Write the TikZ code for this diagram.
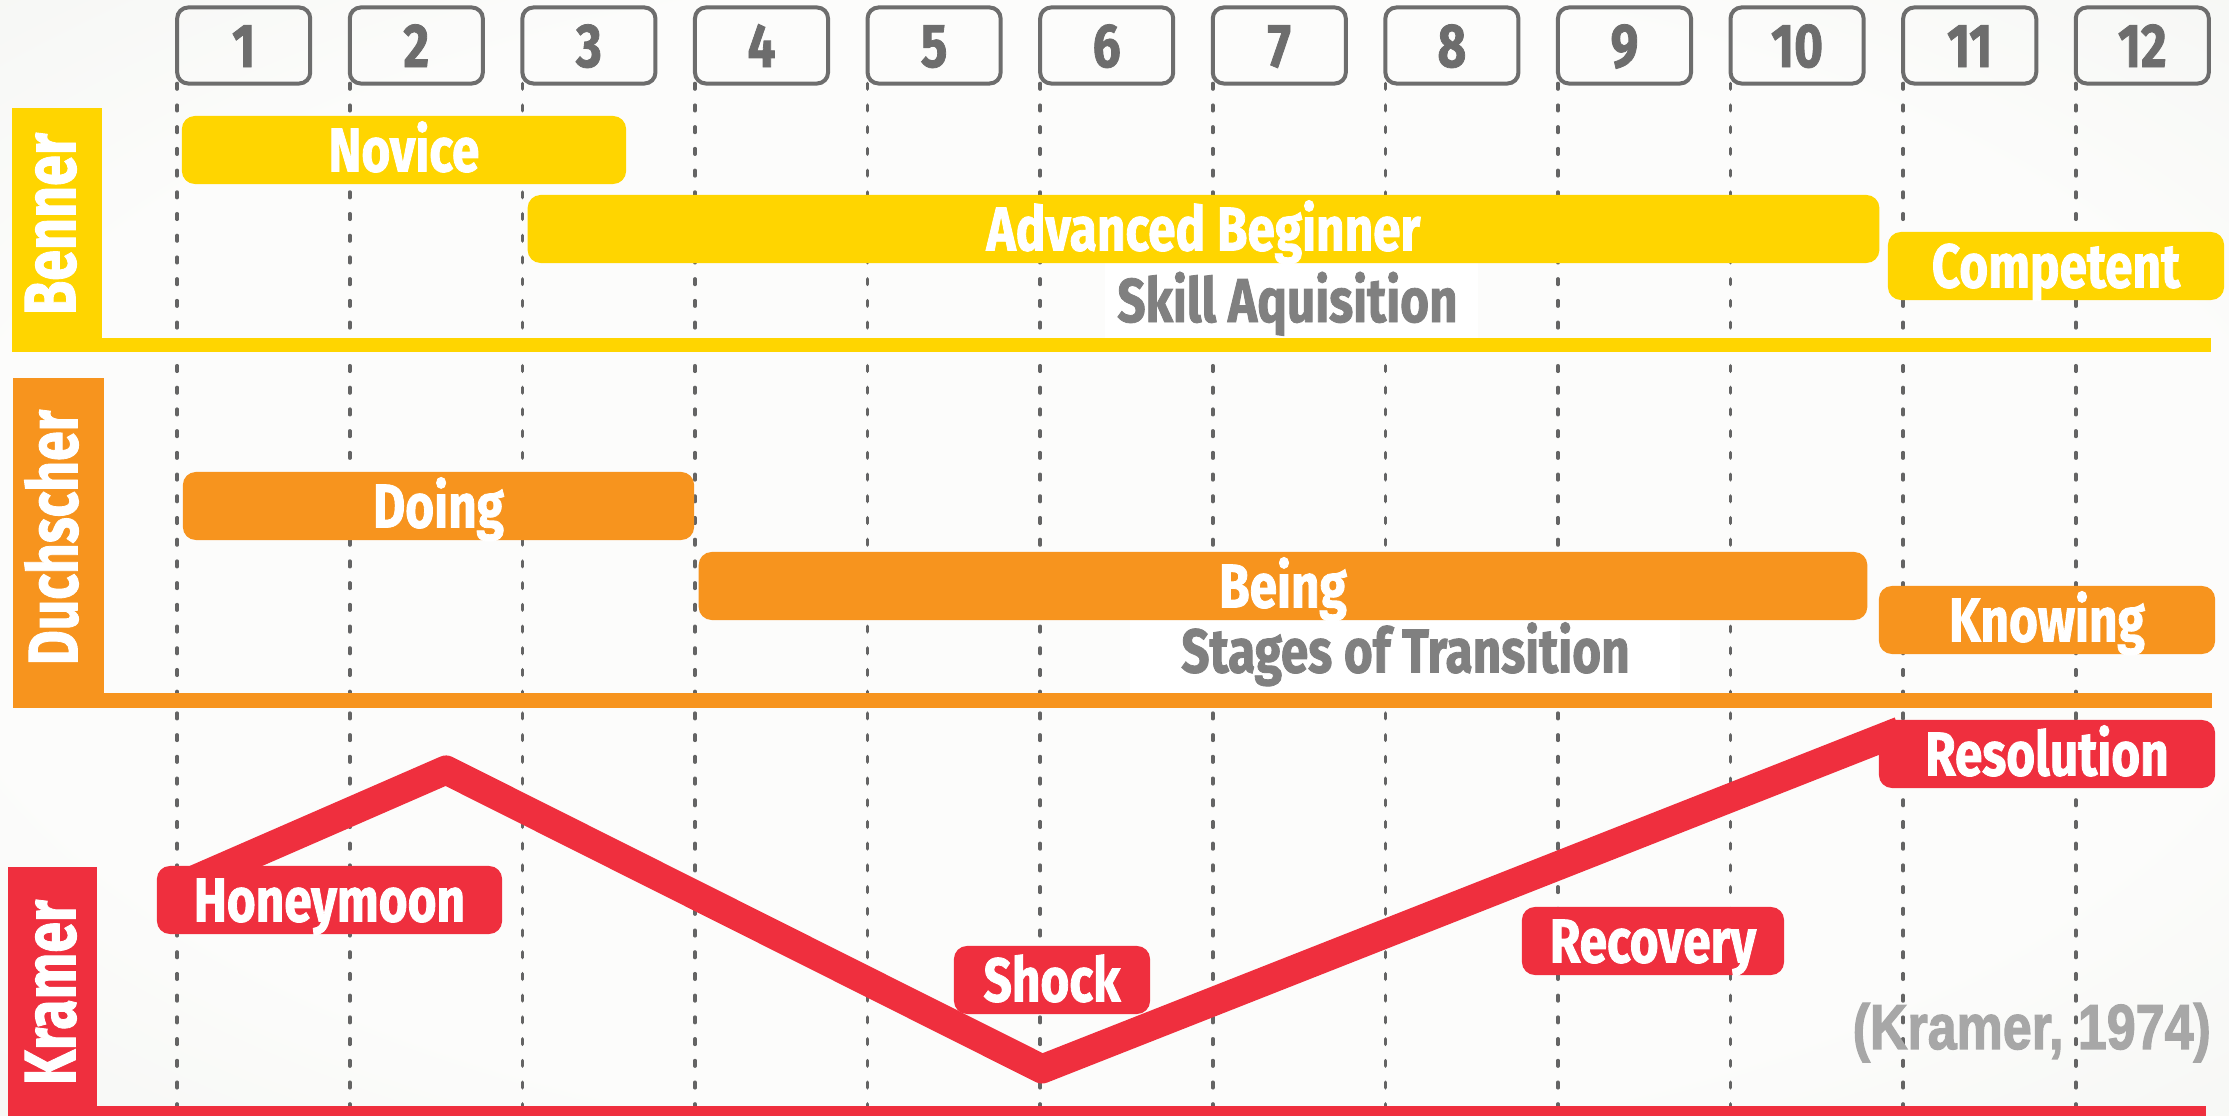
\documentclass[tikz,border=0pt]{standalone}
\usepackage{fontspec}
\usepackage{graphicx}
\newfontfamily\cnd{Fira Sans}[FakeStretch=0.80, FakeBold=1.3]
\newfontfamily\lab{Fira Sans}[FakeBold=1.5]
\newfontfamily\lib{Liberation Sans}[FakeBold=2.2]
\definecolor{byel}{RGB}{255,213,0}
\definecolor{bora}{RGB}{247,148,30}
\definecolor{bred}{RGB}{239,47,62}
\definecolor{hgray}{RGB}{109,109,109}
\definecolor{tgray}{RGB}{128,128,128}
\definecolor{cgray}{RGB}{167,167,167}
\definecolor{dgray}{RGB}{100,100,100}
\definecolor{bgin}{RGB}{252,252,251}
\definecolor{bgout}{RGB}{226,230,223}
\pgfdeclareradialshading{bgshade}{\pgfpoint{0bp}{0bp}}{color(0bp)=(bgin); color(26bp)=(bgin); color(72bp)=(bgout)}
\begin{document}
\begin{tikzpicture}[x=0.01cm,y=-0.01cm,
  lbl/.style={font=\cnd\bfseries\fontsize{17.6pt}{20pt}\selectfont, text height=0.43cm, text depth=0pt, inner sep=0pt},
  hbox/.style={lbl, draw=hgray, line width=0.04cm, rounded corners=0.11cm, minimum width=1.33cm, minimum height=0.76cm, outer sep=0pt, text=hgray},
  bar/.style={lbl, rounded corners=0.13cm, minimum height=0.68cm, text=white},
  gtext/.style={lbl, text=tgray},
  gridl/.style={dgray, line width=0.036cm, line cap=round, dash pattern=on 0.055cm off 0.162cm},
  redline/.style={bred, line width=0.29cm, line join=round},
  vlab/.style={rotate=90, inner sep=0pt, text=white}]
\useasboundingbox (0,0) rectangle (2229,1116);
\begin{scope}
\clip (0,0) rectangle (2229,1116);
\shade[shading=bgshade] (0,0) rectangle (2229,1116);
% header boxes
\foreach \k in {1,...,12}{
  \node[hbox] (h\k) at ({177.2+172.6*(\k-1)+66.5},45.5) {\k};
}
\coordinate (bot) at (0,1118);
\foreach \k in {1,...,12}{
  \draw[gridl] (h\k.south west) -- (h\k.south west |- bot);
}
% white panels behind captions
\fill[white] (1105,263) rectangle (1478,338);
\fill[white] (1130,620) rectangle (1680,693);
% Kramer curve
\coordinate (k0) at (180,886);
\coordinate (k1) at (446,770);
\coordinate (k2) at (1042,1069);
\coordinate (k3) at (1900,731);
\draw[redline] (k0) -- (k1) -- (k2) -- (k3);
% section frames
\fill[byel] (12,108) rectangle (102,352);
\fill[byel] (101,338) rectangle (2211,352);
\fill[bora] (13,378) rectangle (104,708);
\fill[bora] (103,693) rectangle (2212,708);
\fill[bred] (8,867) rectangle (97,1118);
\fill[bred] (96,1106) rectangle (2206,1118);
\node[vlab] (tbenner) at (50.7,224) {\resizebox{1.82cm}{0.505cm}{\lab\bfseries Benner}};
\node[vlab] (tduch) at (51.5,537.5) {\resizebox{2.55cm}{0.53cm}{\lab\bfseries Duchscher}};
\node[vlab] (tkramer) at (50.7,992.5) {\resizebox{1.85cm}{0.505cm}{\lab\bfseries Kramer}};
% Benner
\node[bar, fill=byel, minimum width=4.44cm] (novice) at (404,150) {Novice};
\node[bar, fill=byel, minimum width=13.51cm] (advb) at (1203.5,229) {Advanced Beginner};
\node[bar, fill=byel, minimum width=3.36cm] (comp) at (2056,266) {Competent};
\node[gtext] (skill) at (1287.5,300.5) {Skill Aquisition};
% Duchscher
\node[bar, fill=bora, minimum width=5.11cm] (doing) at (438.5,506) {Doing};
\node[bar, fill=bora, minimum width=11.68cm] (being) at (1283,586) {Being};
\node[bar, fill=bora, minimum width=3.36cm] (know) at (2047,620) {Knowing};
\node[gtext] (stages) at (1405.5,651) {Stages of Transition};
% Kramer
\node[bar, fill=bred, minimum width=3.45cm] (honey) at (329.5,900) {Honeymoon};
\node[bar, fill=bred, minimum width=1.96cm] (shock) at (1052,980) {Shock};
\node[bar, fill=bred, minimum width=2.62cm] (recov) at (1653,941) {Recovery};
\node[bar, fill=bred, minimum width=3.36cm] (resol) at (2047,754) {Resolution};
\node[anchor=base west, inner sep=0pt, text=cgray] (cite) at (1852,1049) {\resizebox{3.58cm}{0.46cm}{\lib\bfseries (Kramer, 1974)}};
\end{scope}
\end{tikzpicture}
\end{document}
